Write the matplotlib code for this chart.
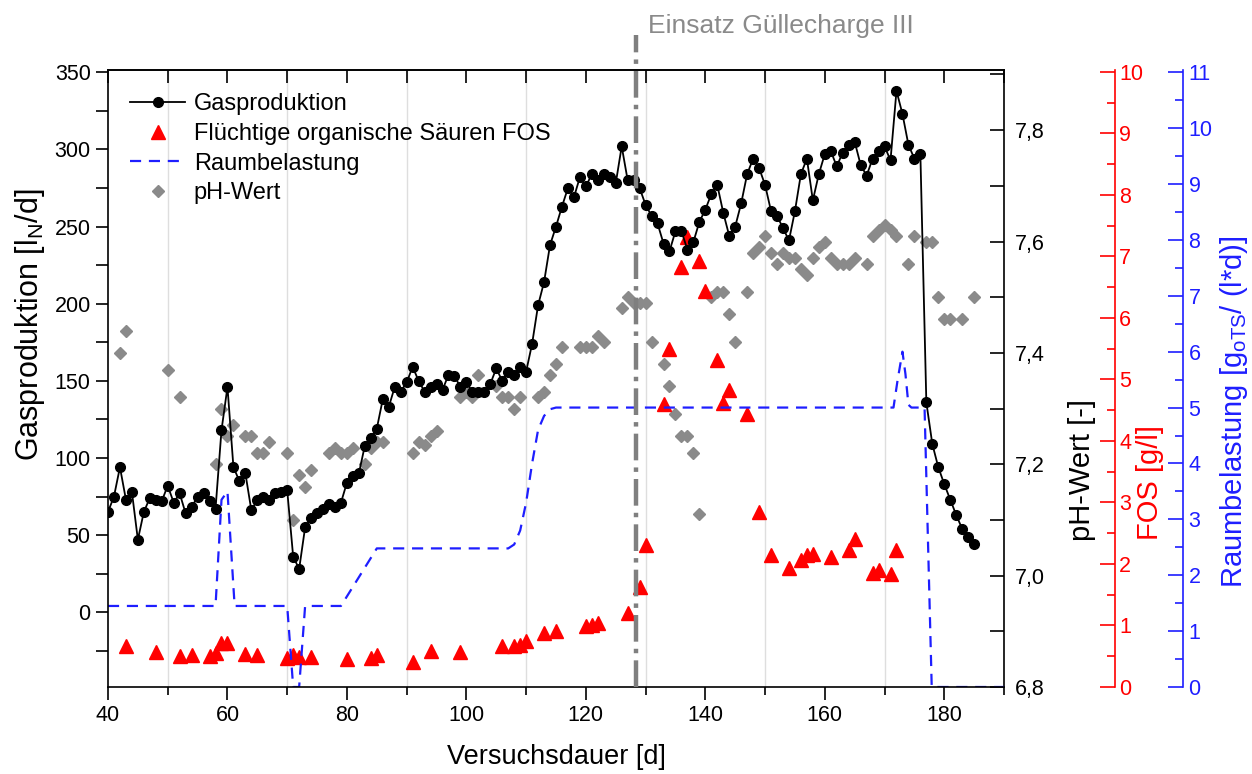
import matplotlib
matplotlib.use('Agg')
import matplotlib.pyplot as plt
from matplotlib.ticker import MultipleLocator, FuncFormatter
from matplotlib.lines import Line2D

plt.rcParams['font.family'] = ['Liberation Sans', 'DejaVu Sans']
plt.rcParams['mathtext.fontset'] = 'custom'
plt.rcParams['mathtext.rm'] = 'Liberation Sans'

# ---------------- data ----------------
gas_days = list(range(40, 186))
gas_vals = [65, 75, 94, 73, 78, 47, 65, 74, 73, 72,
            82, 71, 77, 64, 68, 75, 77, 72, 67, 118,
            146, 94, 85, 90, 66, 73, 75, 73, 77, 78,
            79, 36, 28, 55, 61, 64, 67, 70, 68, 71,
            84, 88, 90, 108, 113, 119, 138, 133, 146, 143,
            149, 159, 150, 143, 146, 148, 144, 154, 153, 146,
            149, 143, 143, 143, 148, 158, 150, 156, 154, 159,
            156, 174, 199, 214, 238, 250, 263, 275, 269, 282,
            276, 284, 280, 284, 282, 278, 302, 280, 280, 275,
            264, 257, 252, 239, 234, 247, 247, 235, 240, 253,
            261, 271, 277, 259, 244, 250, 265, 284, 294, 288,
            277, 260, 257, 249, 241, 260, 284, 294, 267, 284,
            297, 299, 289, 298, 303, 305, 290, 283, 294, 299,
            302, 293, 338, 323, 303, 294, 297, 136, 109, 94,
            83, 73, 63, 54, 49, 44]

fos_days = [43, 48, 52, 54, 57, 58, 59, 60, 63, 65, 70, 71, 72, 74, 80, 84, 85,
            91, 94, 99, 106, 108, 109, 110, 113, 115, 120, 121, 122, 127, 129,
            130, 133, 134, 136, 137, 139, 140, 142, 143, 144, 147, 149, 151,
            154, 156, 157, 158, 161, 164, 165, 168, 169, 171, 172]
fos_vals = [0.67, 0.57, 0.51, 0.52, 0.51, 0.56, 0.71, 0.71, 0.54, 0.52, 0.47,
            0.52, 0.49, 0.48, 0.45, 0.47, 0.52, 0.41, 0.59, 0.57, 0.66, 0.67,
            0.69, 0.75, 0.87, 0.91, 0.99, 1.01, 1.04, 1.21, 1.63, 2.31, 4.60,
            5.49, 6.82, 7.32, 6.92, 6.43, 5.31, 4.61, 4.82, 4.44, 2.85, 2.15,
            1.94, 2.07, 2.15, 2.17, 2.11, 2.23, 2.40, 1.86, 1.91, 1.83, 2.22]

rb_days = [40, 58, 59, 60, 61.2, 70, 71, 72, 73, 79, 85, 107, 108, 109, 110,
           111, 112, 113, 114, 115, 171.5, 172.2, 173, 173.5, 174, 174.5,
           176.7, 177.9, 190]
rb_vals = [1.45, 1.45, 3.35, 3.5, 1.45, 1.45, 0, 0, 1.45, 1.45, 2.48, 2.48,
           2.55, 2.8, 3.3, 4.0, 4.6, 4.85, 4.97, 5.0, 5.0, 5.5, 6.0, 5.6,
           5.05, 5.0, 5.0, 0, 0]

ph_days = [42, 43, 50, 52, 58, 59, 60, 61, 63, 64, 65, 66, 67, 70, 71, 72, 73,
           74, 77, 78, 79, 80, 81, 83, 84, 85, 86, 91, 92, 93, 94, 95, 99, 100,
           101, 102, 105, 106, 107, 108, 109, 112, 113, 114, 115, 116, 119,
           120, 121, 122, 123, 126, 127, 128, 129, 130, 131, 133, 134, 135,
           136, 137, 138, 139, 141, 142, 143, 144, 145, 147, 148, 149, 150,
           151, 152, 153, 154, 155, 156, 157, 158, 159, 160, 161, 162, 163,
           164, 165, 167, 168, 169, 170, 171, 172, 174, 175, 177, 178, 179,
           180, 181, 183, 185]
ph_vals = [7.40, 7.44, 7.37, 7.32, 7.20, 7.30, 7.25, 7.27, 7.25, 7.25, 7.22,
           7.22, 7.24, 7.22, 7.10, 7.18, 7.16, 7.19, 7.22, 7.23, 7.22, 7.22,
           7.23, 7.20, 7.23, 7.24, 7.24, 7.22, 7.24, 7.235, 7.25, 7.26, 7.32,
           7.33, 7.32, 7.36, 7.34, 7.32, 7.32, 7.30, 7.32, 7.32, 7.33, 7.36,
           7.38, 7.41, 7.41, 7.41, 7.41, 7.43, 7.42, 7.48, 7.50, 7.49, 7.49,
           7.49, 7.42, 7.38, 7.34, 7.29, 7.25, 7.25, 7.22, 7.11, 7.50, 7.51,
           7.51, 7.47, 7.42, 7.51, 7.58, 7.59, 7.61, 7.58, 7.56, 7.58, 7.57,
           7.57, 7.55, 7.54, 7.57, 7.59, 7.60, 7.57, 7.56, 7.56, 7.56, 7.57,
           7.56, 7.61, 7.62, 7.63, 7.62, 7.61, 7.56, 7.61, 7.60, 7.60, 7.50,
           7.46, 7.46, 7.46, 7.50]

event_day = 128.4
event_text = 'Einsatz Güllecharge III'

grid_days = list(range(50, 191, 20))

# ---------------- figure ----------------
W, H = 1252, 774
fig = plt.figure(figsize=(W / 100, H / 100), dpi=100)
L, R, B, T = 108, 1004, 687, 70
ax = fig.add_axes([L / W, 1 - B / H, (R - L) / W, (B - T) / H])

ax_ph = ax.twinx()
ax_fos = ax.twinx()
ax_rb = ax.twinx()

ax_ph.set_zorder(1)
ax_fos.set_zorder(2)
ax_rb.set_zorder(3)
ax.set_zorder(4)
ax.patch.set_visible(False)

RED = '#ff0000'
BLUE = '#1e1eff'
GRAY = '#8a8a8a'
LW = 1.2
TICK_FS = 15.5
VLAB_FS = 21

# grid lines (drawn on lowest axis)
for g in grid_days:
    ax_ph.axvline(g, color='#dedede', lw=1.0, zorder=0)

# pH
ax_ph.plot(ph_days, ph_vals, linestyle='none', marker='D', ms=5.8,
           color=GRAY, mec=GRAY, zorder=2)
ax_ph.set_ylim(6.8, 7.908)
ax_ph.yaxis.set_major_locator(MultipleLocator(0.2))
ax_ph.yaxis.set_minor_locator(MultipleLocator(0.1))
ax_ph.yaxis.set_major_formatter(FuncFormatter(lambda v, p: f'{v:.1f}'.replace('.', ',')))
ax_ph.tick_params(axis='y', which='both', direction='in', length=10, width=LW,
                  labelsize=TICK_FS, pad=8)
for s in ['left', 'top', 'bottom']:
    ax_ph.spines[s].set_visible(False)
ax_ph.spines['right'].set_linewidth(LW)

# FOS
ax_fos.plot(fos_days, fos_vals, linestyle='none', marker='^', ms=9.5,
            color=RED, mec=RED, zorder=3)
ax_fos.set_ylim(0, 10.03)
ax_fos.spines['right'].set_position(('axes', (1115 - L) / (R - L)))
for s in ['left', 'top', 'bottom']:
    ax_fos.spines[s].set_visible(False)
ax_fos.spines['right'].set_color(RED)
ax_fos.spines['right'].set_linewidth(LW)
ax_fos.yaxis.set_major_locator(MultipleLocator(1))
ax_fos.yaxis.set_minor_locator(MultipleLocator(0.5))
ax_fos.tick_params(axis='y', which='major', direction='in', length=11, width=LW,
                   colors=RED, labelsize=TICK_FS, pad=3)
ax_fos.tick_params(axis='y', which='minor', direction='in', length=6, width=LW,
                   colors=RED)

# Raumbelastung
ax_rb.plot(rb_days, rb_vals, color=BLUE, lw=1.6, dashes=(5, 3.5), zorder=4)
ax_rb.set_ylim(0, 11.04)
ax_rb.spines['right'].set_position(('axes', (1183 - L) / (R - L)))
for s in ['left', 'top', 'bottom']:
    ax_rb.spines[s].set_visible(False)
ax_rb.spines['right'].set_color(BLUE)
ax_rb.spines['right'].set_linewidth(LW)
ax_rb.yaxis.set_major_locator(MultipleLocator(1))
ax_rb.yaxis.set_minor_locator(MultipleLocator(0.5))
ax_rb.tick_params(axis='y', which='major', direction='in', length=11, width=LW,
                  colors=BLUE, labelsize=TICK_FS, pad=4)
ax_rb.tick_params(axis='y', which='minor', direction='in', length=6, width=LW,
                  colors=BLUE)

# Gas production (main axis)
ax.plot(gas_days, gas_vals, color='black', lw=1.3, marker='o', ms=7,
        mec='black', zorder=5)
ax.set_xlim(40, 190)
ax.set_ylim(-48.5, 351.5)
ax.xaxis.set_major_locator(MultipleLocator(20))
ax.xaxis.set_minor_locator(MultipleLocator(10))
ax.yaxis.set_major_locator(MultipleLocator(50))
ax.yaxis.set_minor_locator(MultipleLocator(25))
ax.tick_params(axis='x', which='major', direction='out', length=9, width=LW,
               labelsize=TICK_FS, pad=4)
ax.tick_params(axis='x', which='minor', direction='out', length=6, width=LW)
ax.tick_params(axis='y', which='both', direction='out', length=9, width=LW,
               labelsize=TICK_FS, right=False)
for s in ax.spines.values():
    s.set_linewidth(LW)
ax.spines['right'].set_visible(False)

sec = ax.secondary_xaxis('top')
sec.xaxis.set_major_locator(MultipleLocator(20))
sec.xaxis.set_minor_locator(MultipleLocator(10))
sec.tick_params(axis='x', which='both', direction='in', length=9, width=LW,
                labeltop=False)
sec.spines['top'].set_linewidth(LW)

# event line + text
ax.plot([event_day, event_day], [0, 1.057], transform=ax.get_xaxis_transform(),
        color='#7f7f7f', lw=3.2, dashes=(6, 1.6, 1, 1.6), clip_on=False, zorder=6)
ax.text(event_day + 2.0, 1.072, event_text, transform=ax.get_xaxis_transform(),
        ha='left', va='center', fontsize=19, color=GRAY)

# labels
ax.set_xlabel('Versuchsdauer [d]', fontsize=19.5)
ax.xaxis.set_label_coords((556 - L) / (R - L), (B - 757) / (B - T))
ax.xaxis.label.set_va('center')

ax.set_ylabel(r'Gasproduktion [l$_{\mathregular{N}}$/d]', fontsize=VLAB_FS + 1)
ax.yaxis.set_label_coords((30 - L) / (R - L), (B - 325) / (B - T))
ax.yaxis.label.set_va('center')

ax_ph.set_ylabel('pH-Wert [-]', fontsize=VLAB_FS)
ax_ph.yaxis.set_label_coords((1082 - L) / (R - L), (B - 470) / (B - T))
ax_ph.yaxis.label.set_va('center')

ax_fos.set_ylabel('FOS [g/l]', fontsize=VLAB_FS, color=RED)
ax_fos.yaxis.set_label_coords((1150 - L) / (R - L), (B - 483) / (B - T))
ax_fos.yaxis.label.set_va('center')

ax_rb.set_ylabel(r'Raumbelastung [g$_{\mathregular{oTS}}$/ (l*d)]', fontsize=VLAB_FS, color=BLUE)
ax_rb.yaxis.set_label_coords((1234 - L) / (R - L), (B - 412) / (B - T))
ax_rb.yaxis.label.set_va('center')

# legend
handles = [
    Line2D([], [], color='black', lw=1.3, marker='o', ms=7),
    Line2D([], [], linestyle='none', marker='^', ms=9.5, color=RED),
    Line2D([], [], color=BLUE, lw=1.6, dashes=(5, 3.5)),
    Line2D([], [], linestyle='none', marker='D', ms=5.8, color=GRAY),
]
labels = ['Gasproduktion', 'Flüchtige organische Säuren FOS', 'Raumbelastung', 'pH-Wert']
ax.legend(handles, labels, loc='upper left', bbox_to_anchor=(130 / W, 1 - 93 / H),
          bbox_transform=fig.transFigure, frameon=False, fontsize=17,
          borderpad=0, borderaxespad=0, handlelength=2.35, handletextpad=0.35,
          labelspacing=0.33, numpoints=1)

fig.savefig('out.png', dpi=100)
